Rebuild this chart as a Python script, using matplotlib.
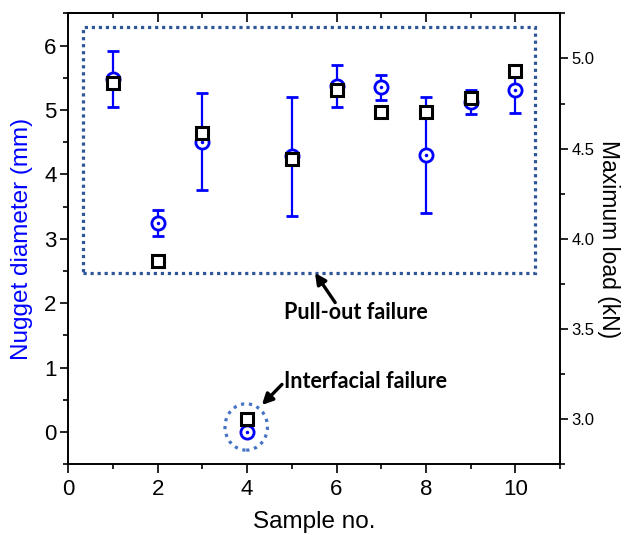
import matplotlib
matplotlib.use("Agg")
import matplotlib.pyplot as plt
from matplotlib.patches import Rectangle, Ellipse
from matplotlib.ticker import MultipleLocator, FormatStrFormatter

# ---- data ----
sample = [1, 2, 3, 4, 5, 6, 7, 8, 9, 10]
nugget_diameter = [5.48, 3.24, 4.51, 0.0, 4.28, 5.37, 5.35, 4.30, 5.12, 5.31]
nugget_err = [0.44, 0.20, 0.76, 0.0, 0.92, 0.32, 0.20, 0.90, 0.19, 0.36]
max_load = [4.865, 3.875, 4.585, 3.00, 4.445, 4.825, 4.705, 4.705, 4.78, 4.93]
x_ticks = [0, 2, 4, 6, 8, 10]
label_pullout = "Pull-out failure"
label_interfacial = "Interfacial failure"

plt.rcParams['font.family'] = ['Liberation Sans', 'DejaVu Sans']

fig = plt.figure(figsize=(6.26, 5.35), dpi=100)
ax = fig.add_axes([68.3/626, 1-464.3/535, (560-68.3)/626, (464.3-13.3)/535])
ax2 = ax.twinx()

blue = '#0000FF'
ax.errorbar(sample, nugget_diameter, yerr=nugget_err, fmt='o', color=blue,
            mfc='white', mec=blue, ms=9.5, mew=2.0, elinewidth=1.6,
            capsize=4, capthick=1.6, zorder=3)
ax.plot(sample, nugget_diameter, '.', color=blue, ms=3, zorder=4)

ax2.plot(sample, max_load, 's', mfc='white', mec='black', ms=8.5, mew=2.2, zorder=5)

ax.set_xlim(0, 11)
ax.set_ylim(-0.5, 6.5)
ax2.set_ylim(2.75, 5.25)

ax.set_xticks(x_ticks)
ax.xaxis.set_minor_locator(MultipleLocator(1))
ax.yaxis.set_major_locator(MultipleLocator(1))
ax.yaxis.set_minor_locator(MultipleLocator(0.5))
ax2.yaxis.set_major_locator(MultipleLocator(0.5))
ax2.yaxis.set_minor_locator(MultipleLocator(0.25))
ax2.yaxis.set_major_formatter(FormatStrFormatter('%.1f'))

for a in (ax, ax2):
    for s in a.spines.values():
        s.set_linewidth(1.2)

ax.tick_params(axis='x', which='both', direction='out', top=False, labelsize=16, width=1.2)
ax.tick_params(axis='x', which='major', length=6.5, pad=4)
ax.tick_params(axis='x', which='minor', length=3.5)
ax.tick_params(axis='y', which='both', direction='out', labelsize=16, width=1.2)
ax.tick_params(axis='y', which='major', length=5.5, pad=3)
ax.tick_params(axis='y', which='minor', length=3.5)
ax2.tick_params(axis='y', which='both', direction='out', labelsize=12, width=1.2)
ax2.tick_params(axis='y', which='major', length=5.5, pad=3)
ax2.tick_params(axis='y', which='minor', length=3.5)

# top ticks inward
sec = ax.secondary_xaxis('top')
sec.set_xticks(x_ticks)
sec.xaxis.set_minor_locator(MultipleLocator(1))
sec.tick_params(which='both', direction='in', labeltop=False, width=1.2)
sec.tick_params(which='major', length=6.5)
sec.tick_params(which='minor', length=3.5)
sec.spines['top'].set_linewidth(1.2)

ax.set_xlabel('Sample no.', fontsize=17.5, labelpad=8)
ax.set_ylabel('Nugget diameter (mm)', fontsize=17.5, color=blue, labelpad=8)
ax2.set_ylabel('Maximum load (kN)', fontsize=16.5, rotation=-90, ha='center', va='center')
ax2.yaxis.set_label_coords(1.099, 0.5)

# dotted rectangle & ellipse
rect = Rectangle((0.336, 2.47), 10.45-0.336, 6.29-2.47, fill=False,
                 edgecolor='#2E5597', lw=2.3, linestyle=(0, (1, 1.2)), zorder=2)
ax.add_patch(rect)
ell = Ellipse((3.98, 0.08), 0.95, 0.72, fill=False, edgecolor='#4472C4',
              lw=2.3, linestyle=(0, (1, 1.5)), zorder=2)
ax.add_patch(ell)

# annotations
ax.text(6.43, 1.85, label_pullout, ha='center', va='center', fontsize=15.5,
        fontweight='bold', family=['Lato', 'DejaVu Sans'])
ax.annotate('', xy=(5.52, 2.47), xytext=(5.97, 2.01),
            arrowprops=dict(arrowstyle='-|>', lw=2.4, color='black', mutation_scale=16,
                            shrinkA=0, shrinkB=0))
ax.text(6.65, 0.79, label_interfacial, ha='center', va='center', fontsize=15.5,
        fontweight='bold', family=['Lato', 'DejaVu Sans'])
ax.annotate('', xy=(4.33, 0.42), xytext=(4.78, 0.74),
            arrowprops=dict(arrowstyle='-|>', lw=2.4, color='black', mutation_scale=16,
                            shrinkA=0, shrinkB=0))

fig.savefig('out.png', dpi=100)
